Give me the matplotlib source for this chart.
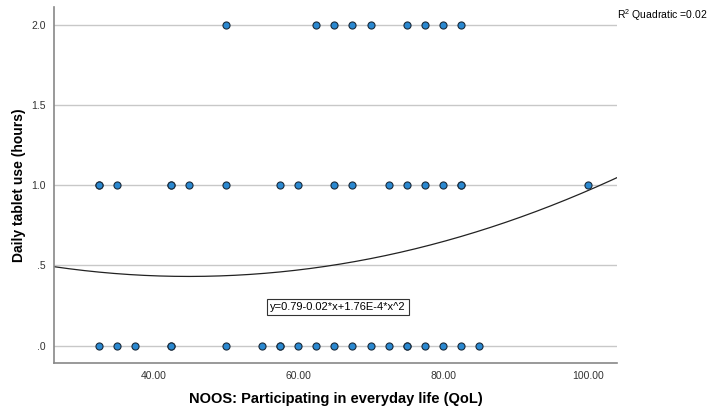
import matplotlib
matplotlib.use('Agg')
import matplotlib.pyplot as plt
import numpy as np

plt.rcParams['font.family'] = ['Liberation Sans', 'DejaVu Sans']

# scores on the x axis for each level of tablet use
x_2h = [50, 62.5, 65, 67.5, 70, 75, 77.5, 80, 82.5]
x_1h = [32.5, 32.5, 35, 42.5, 42.5, 45, 50, 57.5, 60, 65, 67.5, 72.5, 75,
        77.5, 80, 82.5, 82.5, 100]
x_0h = [32.5, 35, 37.5, 42.5, 42.5, 50, 55, 57.5, 57.5, 60, 62.5, 65, 67.5,
        70, 72.5, 75, 75, 77.5, 80, 82.5, 85]

# quadratic fit y = a + b*x + c*x^2
fit_coef = [0.786, -0.0158, 1.76e-4]

xticks = [40, 60, 80, 100]
xtick_labels = ['40.00', '60.00', '80.00', '100.00']
yticks = [0, 0.5, 1.0, 1.5, 2.0]
ytick_labels = ['.0', '.5', '1.0', '1.5', '2.0']

fig = plt.figure(figsize=(7.08, 4.07), dpi=100)
ax = fig.add_axes([0.0763, 0.108, 0.795, 0.875])

for y in yticks:
    ax.axhline(y, color='#c8c8c8', lw=1, zorder=0)

xs = x_2h + x_1h + x_0h
ys = [2.0] * len(x_2h) + [1.0] * len(x_1h) + [0.0] * len(x_0h)
ax.scatter(xs, ys, s=26, color='#2a88d0', edgecolors='#1a2a3a',
           linewidths=0.8, zorder=3)

xx = np.linspace(26.3, 104, 300)
yy = fit_coef[0] + fit_coef[1] * xx + fit_coef[2] * xx ** 2
ax.plot(xx, yy, color='#222222', lw=0.9, zorder=2)

ax.set_xlim(26.3, 104)
ax.set_ylim(-0.108, 2.11)
ax.set_xticks(xticks)
ax.set_xticklabels(xtick_labels)
ax.set_yticks(yticks)
ax.set_yticklabels(ytick_labels)
ax.tick_params(length=0, labelsize=7.5, colors='#333333', pad=6)

for s in ['top', 'right']:
    ax.spines[s].set_visible(False)
for s in ['left', 'bottom']:
    ax.spines[s].set_color('#888888')
    ax.spines[s].set_linewidth(1.2)

ax.set_xlabel('NOOS: Participating in everyday life (QoL)', fontsize=10.5,
              fontweight='bold', labelpad=8)
ax.set_ylabel('Daily tablet use (hours)', fontsize=10,
              fontweight='bold', labelpad=4)

ax.text(1.0, 0.978, '$\\mathregular{R^2}$ Quadratic =0.02',
        transform=ax.transAxes, fontsize=7.5, ha='left', va='center')
ax.text(65.5, 0.24, 'y=0.79-0.02*x+1.76E-4*x^2', fontsize=8, ha='center',
        va='center', bbox=dict(boxstyle='square,pad=0.25', fc='white',
                                ec='#333333', lw=0.8))

fig.savefig('out.png', dpi=100)
